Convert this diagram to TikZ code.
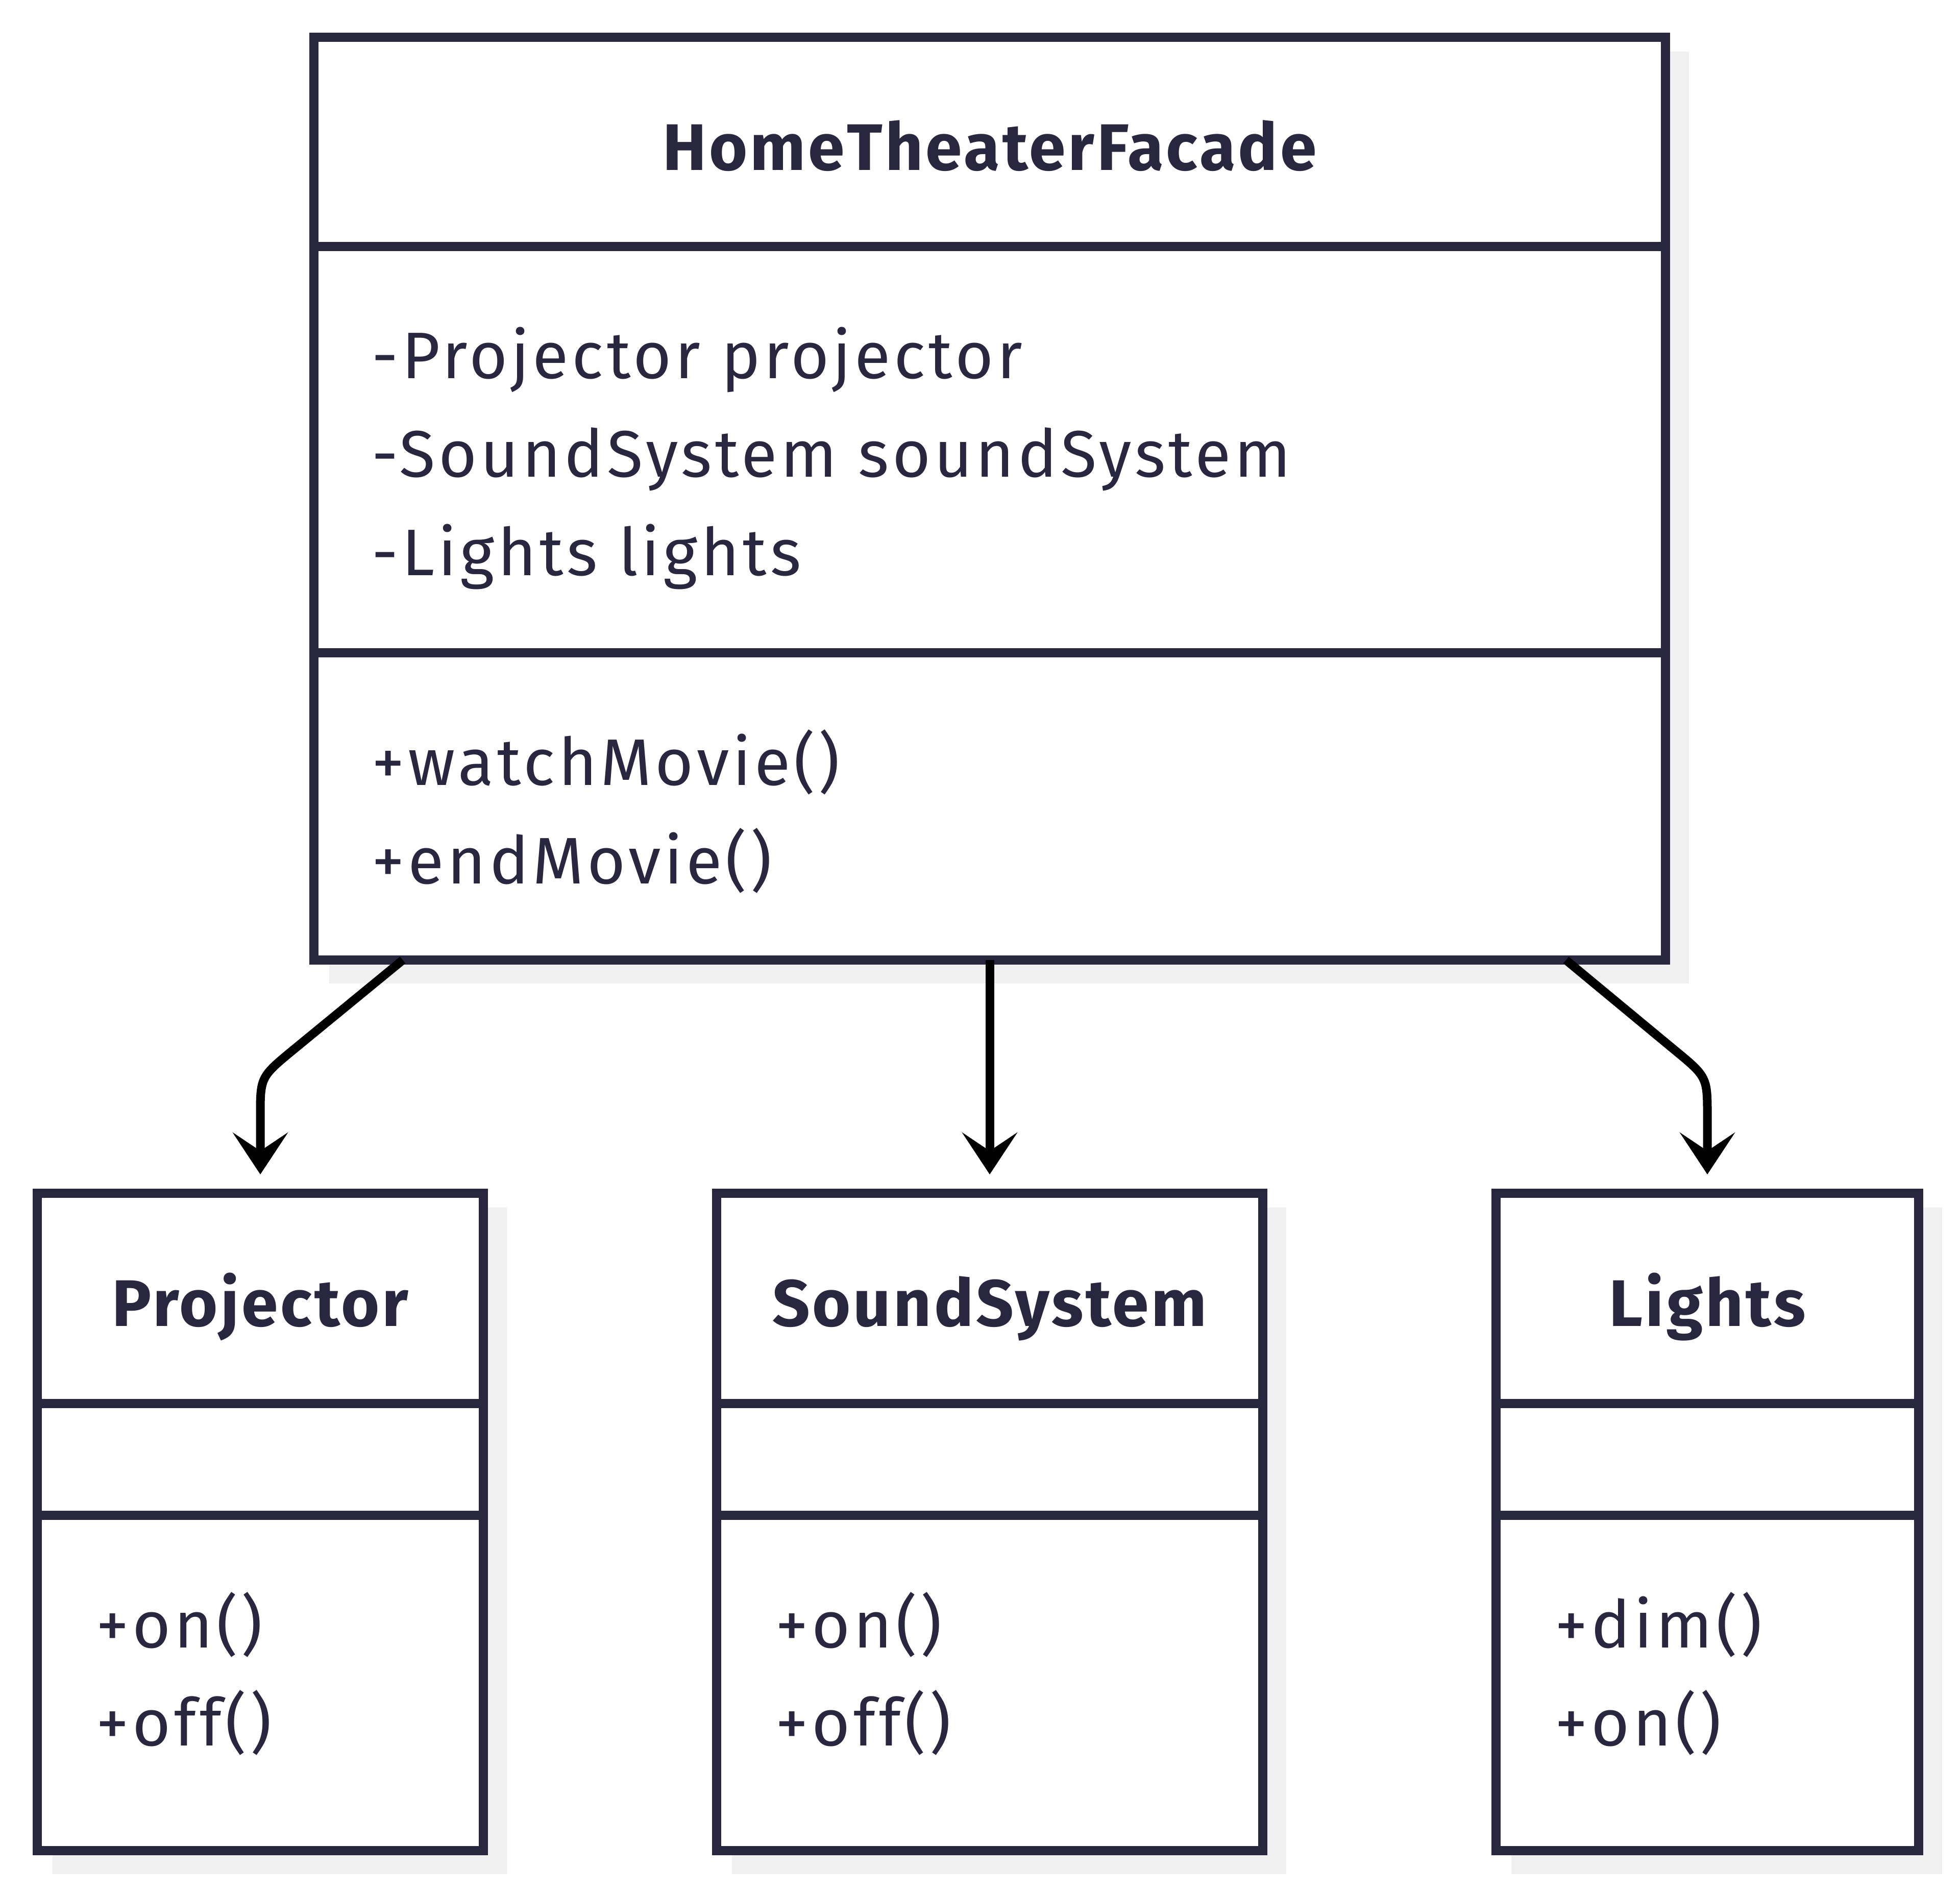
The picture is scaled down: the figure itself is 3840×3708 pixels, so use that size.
\documentclass[tikz,border=0pt]{standalone}
\usepackage{fontspec}
\setmainfont{Fira Sans}[LetterSpace=5.2]
\newfontfamily\titlefont{Fira Sans}[LetterSpace=3.8]
\usetikzlibrary{arrows.meta,calc,backgrounds}
\definecolor{ink}{RGB}{41,39,63}
\definecolor{shade}{RGB}{240,240,240}
\begin{document}
\begin{tikzpicture}[x=0.25pt,y=-0.25pt,
  box/.style={draw=ink,line width=4.5pt,fill=white,inner sep=0pt,outer sep=0pt,rectangle},
  divider/.style={draw=ink,line width=4.5pt},
  shadowbox/.style={fill=shade},
  title/.style={font=\fontsize{32.25pt}{38pt}\titlefont\bfseries,text=ink,anchor=base,inner sep=0pt},
  member/.style={font=\fontsize{32.25pt}{38pt}\selectfont,text=ink,anchor=base west,inner sep=0pt},
  conn/.style={draw=black,line width=4.25pt,-{Stealth[length=20.5pt,width=27pt,inset=9pt]}}
]
\useasboundingbox (0,0) rectangle (3840,3708);

% class boxes
\node[box,minimum width=662pt,minimum height=452pt] (facade) at (1939,977) {};
\node[box,minimum width=218.5pt,minimum height=322pt] (proj) at (510,2982) {};
\node[box,minimum width=267.5pt,minimum height=322pt] (snd) at (1939,2982) {};
\node[box,minimum width=207pt,minimum height=322pt] (lights) at (3345,2982) {};

% shadows
\begin{scope}[on background layer]
  \foreach \b in {facade,proj,snd,lights}
    \fill[shadowbox] ($(\b.north west)+(30,28)$) rectangle ($(\b.south east)+(46,46)$);
\end{scope}

% compartment dividers
\draw[divider] (facade.west |- 0,483) -- (facade.east |- 0,483);
\draw[divider] (facade.west |- 0,1279) -- (facade.east |- 0,1279);
\foreach \b in {proj,snd,lights}{
  \draw[divider] (\b.west |- 0,2750) -- (\b.east |- 0,2750);
  \draw[divider] (\b.west |- 0,2969) -- (\b.east |- 0,2969);
}

% texts
\node[title] (tfacade) at (1939,333) {HomeTheaterFacade};
\node[member] (fa1) at (728,741) {-Projector projector};
\node[member] (fa2) at (728,934) {-SoundSystem soundSystem};
\node[member] (fa3) at (728,1127) {-Lights lights};
\node[member] (fm1) at (728,1538) {+watchMovie()};
\node[member] (fm2) at (728,1731) {+endMovie()};

\node[title] (tproj) at (510,2598) {Projector};
\node[member] (pm1) at (188,3228) {+on()};
\node[member] (pm2) at (188,3420) {+off()};

\node[title] (tsnd) at (1939,2598) {SoundSystem};
\node[member] (sm1) at (1519,3228) {+on()};
\node[member] (sm2) at (1519,3420) {+off()};

\node[title] (tlights) at (3345,2598) {Lights};
\node[member] (lm1) at (3046,3228) {+dim()};
\node[member] (lm2) at (3046,3420) {+on()};

% connectors
\draw[conn] ($(facade.south west)+(174,0)$) -- ($(proj.north)+(67,-283)$)
  .. controls ($(proj.north)+(0,-228)$) .. ($(proj.north)+(0,-151)$) -- ($(proj.north)+(0,-37)$);
\draw[conn] (snd.north |- facade.south) -- ($(snd.north)+(0,-37)$);
\draw[conn] ($(facade.south east)+(-195,0)$) -- ($(lights.north)+(-67,-283)$)
  .. controls ($(lights.north)+(0,-228)$) .. ($(lights.north)+(0,-151)$) -- ($(lights.north)+(0,-37)$);
\end{tikzpicture}
\end{document}
